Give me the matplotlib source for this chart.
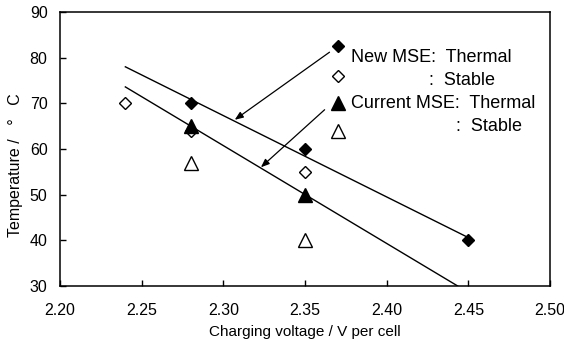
import matplotlib
matplotlib.use("Agg")
from matplotlib import pyplot as plt

plt.rcParams["font.family"] = ["Liberation Sans", "DejaVu Sans"]

# New MSE
new_thermal_v = [2.28, 2.35, 2.45]
new_thermal_t = [70, 60, 40]
new_stable_v = [2.24, 2.28, 2.35]
new_stable_t = [70, 64, 55]

# Current MSE
cur_thermal_v = [2.28, 2.35]
cur_thermal_t = [65, 50]
cur_stable_v = [2.28, 2.35]
cur_stable_t = [57, 40]

# trend lines
new_fit_v = [2.24, 2.45]
new_fit_t = [78.0, 40.6]
cur_fit_v = [2.24, 2.4435]
cur_fit_t = [73.6, 30.0]

# legend symbols drawn inside the plot
key_v = 2.37
key_t = [82.5, 76, 70, 64]

x_ticks = [2.20, 2.25, 2.30, 2.35, 2.40, 2.45, 2.50]
y_ticks = [30, 40, 50, 60, 70, 80, 90]

fig = plt.figure(figsize=(5.64, 3.42), dpi=100)
ax = fig.add_axes([0.1064, 0.1637, 0.8688, 0.8012])

line_kw = dict(color="black", lw=1.0, zorder=2)
ax.plot(new_fit_v, new_fit_t, **line_kw)
ax.plot(cur_fit_v, cur_fit_t, **line_kw)

filled_d = dict(marker="D", ms=6.5, mfc="black", mec="black", mew=1.0, ls="none", zorder=4)
open_d = dict(marker="D", ms=6.0, mfc="white", mec="black", mew=1.0, ls="none", zorder=3)
filled_t = dict(marker="^", ms=9.5, mfc="black", mec="black", mew=1.0, ls="none", zorder=4)
open_t = dict(marker="^", ms=9.5, mfc="white", mec="black", mew=1.0, ls="none", zorder=3)

ax.plot(new_stable_v, new_stable_t, **open_d)
ax.plot(cur_stable_v, cur_stable_t, **open_t)
ax.plot(new_thermal_v, new_thermal_t, **filled_d)
ax.plot(cur_thermal_v, cur_thermal_t, **filled_t)

# key symbols + labels
ax.plot([key_v], [key_t[0]], **filled_d)
ax.plot([key_v], [key_t[1]], **open_d)
ax.plot([key_v], [key_t[2]], **filled_t)
ax.plot([key_v], [key_t[3]], **open_t)

txt = dict(fontsize=13, va="center", ha="left", color="black")
ax.text(2.378, 80.1, "New MSE:  Thermal", **txt)
ax.text(2.426, 75.0, ":  Stable", **txt)
ax.text(2.378, 70.0, "Current MSE:  Thermal", **txt)
ax.text(2.4425, 64.9, ":  Stable", **txt)

arrow = dict(arrowstyle="-|>,head_length=0.5,head_width=0.2", color="black", lw=0.9,
             mutation_scale=10, shrinkA=0, shrinkB=0)
ax.annotate("", xy=(2.307, 66.4), xytext=(2.365, 81.2), arrowprops=arrow)
ax.annotate("", xy=(2.323, 56.0), xytext=(2.362, 68.6), arrowprops=arrow)

ax.set_xlim(2.20, 2.50)
ax.set_ylim(30, 90)
ax.set_xticks(x_ticks)
ax.set_yticks(y_ticks)
ax.set_xticklabels([f"{v:.2f}" for v in x_ticks])
ax.tick_params(axis="both", direction="in", length=4, width=1, labelsize=11.5)
ax.tick_params(axis="x", pad=12)
ax.tick_params(axis="y", pad=9)

for spine in ax.spines.values():
    spine.set_linewidth(1.1)

ax.set_xlabel("Charging voltage / V per cell", fontsize=11, labelpad=5)
ax.set_ylabel("Temperature /   °   C", fontsize=11.5, labelpad=5)
ax.yaxis.set_label_coords(-0.075, 0.44)

fig.savefig("out.png", dpi=100)
